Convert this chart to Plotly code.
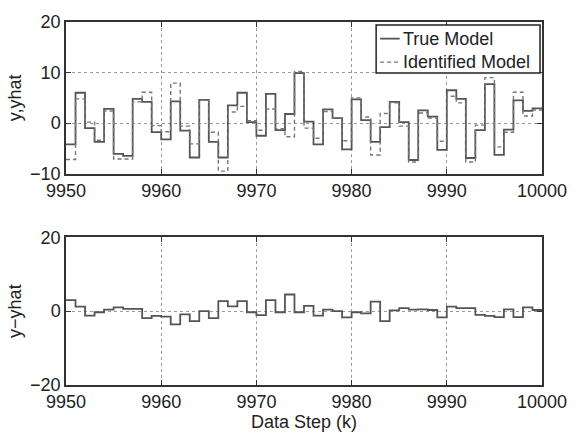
import plotly.graph_objects as go
from plotly.subplots import make_subplots

steps = list(range(9950, 10001))

true_model = [-4.2, 6.0, -1.0, -3.7, 2.8, -6.1, -6.5, 4.8, 4.2, -1.8,
              -3.2, 4.3, -1.5, -6.8, 4.6, -3.7, -6.8, 3.5, 6.0, 0.2,
              -2.5, 5.8, -1.4, 1.8, 9.9, 0.3, -4.2, 2.7, 1.0, -5.2,
              4.7, 0.6, -3.7, -0.8, 4.2, 0.2, -7.3, 2.5, 1.3, -5.3,
              6.5, 4.8, -6.9, -1.4, 7.7, -6.3, -1.3, 4.5, 2.4, 2.9, 2.9]

identified_model = [-7.2, 4.8, 0.2, -3.4, 2.4, -7.1, -7.1, 4.2, 6.1, -0.5,
                    -1.7, 7.9, -0.6, -4.1, 4.6, -1.8, -9.5, 2.2, 3.3, 0.5,
                    -1.4, 2.8, -1.1, -2.7, 10.2, -1.0, -3.0, 2.3, 1.0, -3.5,
                    5.0, 1.2, -6.3, 1.9, 4.0, -0.6, -7.7, 2.0, 1.0, -3.6,
                    5.3, 4.0, -7.7, -0.4, 9.0, -4.7, -1.8, 6.1, 1.4, 2.6, 2.6]

residual = [3.0, 1.2, -1.2, -0.3, 0.4, 1.0, 0.6, 0.6, -1.9, -1.3,
            -1.5, -3.6, -0.9, -2.7, 0.0, -1.9, 2.7, 1.3, 2.7, -0.3,
            -1.1, 3.0, -0.3, 4.5, -0.3, 1.4, -1.2, 0.4, 0.0, -1.7,
            -0.3, -0.6, 2.6, -2.7, 0.2, 0.8, 0.4, 0.5, 0.3, -1.7,
            1.2, 0.8, 0.8, -1.0, -1.3, -1.6, 0.5, -1.6, 1.0, 0.3, 0.3]

legend_labels = ["True Model", "Identified Model"]
x_ticks = [9950, 9960, 9970, 9980, 9990, 10000]
top_y_ticks = [-10, 0, 10, 20]
bottom_y_ticks = [-20, 0, 20]

FONT = "Liberation Sans, Arial, Helvetica, sans-serif"
FS = 18
TXT = "#222222"
SOLID = dict(color="#555555", width=1.8)
DASHED = dict(color="#777777", width=1.4, dash="4px,3px")

W, H = 579, 437
ML, MR, MT, MB = 66, 28, 15, 51
PW, PH = W - ML - MR, H - MT - MB


def px(xp):
    return (xp - ML) / PW


def py(yp):
    return (H - MB - yp) / PH


fig = make_subplots(rows=2, cols=1, vertical_spacing=0.0)

fig.add_trace(go.Scatter(x=steps, y=true_model, mode="lines", line_shape="hv",
                         name=legend_labels[0], line=SOLID, showlegend=False), row=1, col=1)
fig.add_trace(go.Scatter(x=steps, y=identified_model, mode="lines", line_shape="hv",
                         name=legend_labels[1], line=DASHED, showlegend=False), row=1, col=1)
fig.add_trace(go.Scatter(x=steps, y=residual, mode="lines", line_shape="hv",
                         showlegend=False, line=SOLID), row=2, col=1)

axis_common = dict(
    showline=True, linecolor="#333333", linewidth=1.5, mirror="ticks",
    ticks="inside", ticklen=5, tickcolor="#333333", tickwidth=1,
    showgrid=True, gridcolor="#9a9a9a", griddash="dot", gridwidth=1,
    zeroline=False,
    tickfont=dict(family=FONT, size=FS, color=TXT),
)

fig.update_xaxes(**axis_common, range=[9950, 10000], tickvals=x_ticks,
                 ticktext=[str(v) for v in x_ticks])
fig.update_xaxes(domain=[0, 1])
fig.update_yaxes(**axis_common)

fig.update_yaxes(range=[-10, 20], tickvals=top_y_ticks,
                 ticktext=["\u221210", "0", "10", "20"],
                 domain=[py(170), 1.0],
                 title=dict(text="y,yhat", font=dict(family=FONT, size=FS, color=TXT),
                            standoff=4),
                 row=1, col=1)
fig.update_yaxes(range=[-20, 20], tickvals=bottom_y_ticks,
                 ticktext=["\u221220", "0", "20"],
                 domain=[0.0, py(235)],
                 title=dict(text="y\u2212yhat", font=dict(family=FONT, size=FS, color=TXT),
                            standoff=4),
                 row=2, col=1)
fig.update_xaxes(title=dict(text="Data Step (k)", font=dict(family=FONT, size=FS, color=TXT),
                            standoff=0),
                 row=2, col=1)

# Manual legend box (MATLAB style, compact)
shapes = [
    dict(type="rect", xref="paper", yref="paper",
         x0=px(382), x1=px(549), y0=py(67), y1=py(18),
         line=dict(color="#222222", width=1.5), fillcolor="white", layer="above"),
    dict(type="line", xref="paper", yref="paper",
         x0=px(386), x1=px(406), y0=py(32), y1=py(32),
         line=SOLID, layer="above"),
    dict(type="line", xref="paper", yref="paper",
         x0=px(386), x1=px(406), y0=py(56), y1=py(56),
         line=DASHED, layer="above"),
]
annotations = [
    dict(text=legend_labels[0], xref="paper", yref="paper", x=px(407), y=py(32),
         xanchor="left", yanchor="middle", showarrow=False,
         font=dict(family=FONT, size=FS, color=TXT)),
    dict(text=legend_labels[1], xref="paper", yref="paper", x=px(407), y=py(56),
         xanchor="left", yanchor="middle", showarrow=False,
         font=dict(family=FONT, size=FS, color=TXT)),
]

fig.update_layout(
    width=W, height=H,
    margin=dict(l=ML, r=MR, t=MT, b=MB),
    paper_bgcolor="white", plot_bgcolor="white",
    font=dict(family=FONT, size=FS, color=TXT),
    showlegend=False,
    shapes=shapes,
    annotations=list(fig.layout.annotations) + annotations,
)

fig.write_html("out.html")
